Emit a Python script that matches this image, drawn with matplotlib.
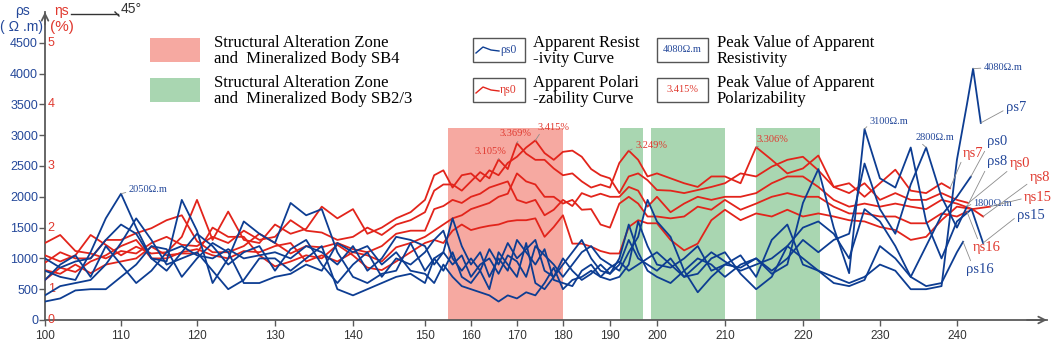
import numpy as np
import matplotlib
matplotlib.use('Agg')
import matplotlib.pyplot as plt
from matplotlib.patches import Rectangle
from matplotlib.lines import Line2D

plt.rcParams['font.family'] = ['Liberation Sans', 'DejaVu Sans']
SERIF = ['Liberation Serif', 'DejaVu Serif']

W, H = 1052, 344

# ── Data ──────────────────────────────────────────────────────────────────
X = np.arange(100, 240, 2)   # survey points 100 ... 238

# apparent resistivity (Ω·m)
RHO_S0 = [1000, 850, 950, 1000, 1300, 1550, 1400, 1000, 800, 1100,
          1400, 1200, 900, 1100, 1200, 800, 1150, 1300, 900, 600,
          900, 1100, 700, 1000, 900, 1100, 1300, 1450, 1000, 800,
          1000, 800, 1150, 900, 1250, 1000, 1150, 1300, 800, 700,
          900, 1100, 1300, 1000, 800, 750, 900, 1300, 1000, 900,
          800, 1000, 700, 900, 1100, 950, 800, 900, 1000, 1200,
          1500, 1600, 1400, 1000, 1800, 1600, 1200, 700, 1200, 1700]
RHO_S7 = [800, 700, 650, 1100, 1650, 2050, 1500, 1000, 950, 1950,
          1450, 600, 1000, 1600, 1400, 1250, 1900, 1700, 1800, 1100,
          700, 600, 750, 800, 1250, 800, 1000, 1100, 1650, 1200,
          900, 1100, 700, 1000, 800, 1300, 1100, 900, 1150, 650,
          600, 550, 800, 900, 700, 650, 700, 900, 1600, 1200,
          900, 850, 1000, 1200, 800, 900, 1050, 700, 1300, 1550,
          900, 800, 700, 600, 700, 900, 800, 500, 500, 550]
RHO_S8 = [650, 900, 1050, 700, 1200, 900, 600, 800, 1100, 1200,
          1050, 1000, 1150, 1000, 1050, 1100, 1000, 1200, 1100, 900,
          1200, 800, 1000, 1350, 1300, 1200, 900, 1100, 900, 1050,
          700, 900, 1000, 750, 1050, 950, 700, 1200, 1050, 900,
          700, 900, 1100, 1200, 1000, 900, 800, 1100, 1350, 1950,
          1600, 1350, 800, 450, 700, 900, 850, 1000, 800, 1000,
          1300, 1100, 1300, 1400, 2540, 1800, 1400, 2200, 2800, 2000]
RHO_S15 = [400, 550, 600, 650, 900, 1250, 1650, 1300, 900, 1000,
           1100, 800, 500, 650, 1000, 1000, 800, 1000, 1200, 500,
           400, 500, 600, 700, 750, 600, 1000, 800, 1100, 700,
           600, 800, 500, 1100, 900, 700, 1250, 600, 500, 700,
           1000, 800, 650, 750, 900, 750, 1000, 1550, 1100, 800,
           700, 600, 800, 1000, 900, 700, 900, 1000, 750, 900,
           1900, 2450, 1500, 760, 3100, 2300, 2150, 2800, 1600, 1000]
RHO_S16 = [300, 350, 480, 500, 500, 700, 900, 1200, 1150, 700,
           1000, 1250, 1100, 600, 600, 700, 750, 900, 800, 1250,
           1100, 1200, 900, 1100, 800, 750, 600, 900, 700, 550,
           500, 450, 400, 300, 400, 350, 450, 400, 600, 850,
           500, 650, 700, 800, 700, 850, 950, 800, 900, 1000,
           1100, 900, 700, 750, 1000, 1100, 750, 500, 700, 1200,
           1000, 800, 600, 550, 650, 1200, 1000, 700, 550, 600]

# curve ends beyond point 238
RHO_S0_END_X, RHO_S0_END_Y = [240, 241.8], [2000, 2325]
RHO_S7_END_X, RHO_S7_END_Y = [240, 241.3, 242.1, 243.1], [2600, 3500, 4080, 3200]
RHO_S8_END_X, RHO_S8_END_Y = [240, 241.3], [1500, 1840]
RHO_S15_END_X, RHO_S15_END_Y = [240, 241.9, 243.4], [1600, 1800, 1250]
RHO_S16_END_X, RHO_S16_END_Y = [240, 240.8], [1100, 1270]

# apparent polarizability (%)
ETA_S7 = [1.75, 1.88, 1.62, 1.58, 1.50, 1.62, 1.58, 1.75, 1.85, 1.72,
          1.70, 1.85, 1.75, 1.95, 1.80, 1.85, 2.12, 1.95, 1.92, 1.80,
          1.85, 2.00, 1.88, 2.05, 2.12, 2.25, 2.60, 2.70, 2.70, 2.60,
          2.75, 2.90, 2.80, 3.105, 2.95, 3.369, 3.20, 3.10, 3.10, 2.96,
          2.85, 2.88, 2.75, 2.65, 2.70, 2.65, 3.05, 3.249, 3.10, 2.83,
          2.88, 2.80, 2.72, 2.66, 2.83, 2.83, 2.72, 3.306, 3.10, 2.88,
          2.96, 3.17, 2.66, 2.72, 2.50, 2.72, 2.94, 2.60, 2.56, 2.72]
ETA_S0 = [1.55, 1.45, 1.55, 1.88, 1.72, 1.55, 1.69, 1.58, 1.60, 1.85,
          2.45, 1.80, 2.26, 1.80, 1.75, 2.05, 1.90, 1.98, 2.34, 2.15,
          2.30, 1.90, 2.00, 2.15, 2.25, 2.45, 2.85, 2.93, 2.65, 2.85,
          2.88, 2.75, 2.93, 2.85, 3.05, 3.15, 3.30, 3.415, 3.21, 3.10,
          3.23, 3.25, 3.15, 2.95, 2.85, 2.80, 2.56, 2.83, 2.88, 2.77,
          2.61, 2.60, 2.56, 2.61, 2.66, 2.72, 2.88, 2.83, 2.99, 3.10,
          3.15, 2.93, 2.66, 2.56, 2.72, 2.45, 2.56, 2.45, 2.45, 2.56]
ETA_S8 = [1.43, 1.60, 1.50, 1.50, 1.80, 1.80, 1.91, 1.99, 2.12, 2.20,
          1.78, 1.60, 1.60, 1.70, 1.90, 1.75, 1.58, 1.70, 1.68, 1.75,
          1.65, 1.60, 1.70, 1.90, 1.95, 1.95, 2.30, 2.35, 2.45, 2.40,
          2.50, 2.55, 2.65, 2.70, 2.75, 2.45, 2.40, 2.45, 2.20, 2.29,
          2.45, 2.35, 2.56, 2.50, 2.55, 2.50, 2.50, 2.66, 2.60, 2.34,
          2.50, 2.25, 2.39, 2.50, 2.45, 2.50, 2.50, 2.56, 2.72, 2.83,
          2.83, 2.66, 2.45, 2.34, 2.39, 2.34, 2.39, 2.34, 2.30, 2.45]
ETA_S15 = [1.31, 1.25, 1.40, 1.26, 1.40, 1.45, 1.50, 1.69, 1.55, 1.58,
           1.58, 2.00, 1.85, 1.85, 1.55, 1.37, 1.45, 1.55, 1.50, 1.72,
           1.55, 1.35, 1.31, 1.45, 1.60, 1.75, 1.80, 1.75, 1.95, 2.05,
           1.96, 2.00, 2.03, 2.05, 2.10, 2.12, 2.12, 2.15, 1.85, 2.01,
           2.20, 1.74, 1.74, 1.69, 1.62, 1.58, 1.58, 2.01, 2.12, 2.07,
           2.07, 1.80, 1.63, 1.74, 2.12, 2.29, 2.12, 2.23, 2.18, 2.29,
           2.18, 2.23, 2.18, 2.12, 2.10, 2.01, 1.96, 1.80, 1.85, 2.12]
ETA_S16 = [1.15, 1.35, 1.28, 1.45, 1.55, 1.70, 1.80, 1.50, 1.50, 1.60,
           1.65, 1.55, 1.50, 1.62, 1.60, 1.70, 1.75, 1.45, 1.55, 1.45,
           1.60, 1.55, 1.45, 1.68, 1.75, 1.85, 1.95, 2.05, 2.15, 2.20,
           2.30, 2.35, 2.40, 2.50, 2.55, 2.88, 2.75, 2.70, 2.50, 2.50,
           2.39, 2.45, 2.29, 2.30, 2.05, 2.00, 2.39, 2.50, 2.39, 2.18,
           2.18, 2.15, 2.18, 2.34, 2.29, 2.45, 2.29, 2.39, 2.50, 2.56,
           2.50, 2.50, 2.34, 2.23, 2.23, 2.18, 2.18, 2.07, 2.07, 2.23]

ETA_S7_END_X, ETA_S7_END_Y = [239.1], [2.64]
ETA_S0_END_X, ETA_S0_END_Y = [240, 241.5], [2.45, 2.40]
ETA_S8_END_X, ETA_S8_END_Y = [240, 242, 243.4], [2.39, 2.30, 2.18]
ETA_S15_END_X, ETA_S15_END_Y = [240, 242, 244.3], [2.34, 2.30, 2.34]
ETA_S16_END_X, ETA_S16_END_Y = [240, 241.3], [2.18, 2.26]

SB4_ZONE = (155, 180)
SB23_ZONES = [(192.1, 197.1), (198.7, 210), (214, 222.2)]
ZONE_TOP = 3110

XTICKS = list(range(100, 250, 10))
RHO_TICKS = list(range(0, 5000, 500))
ETA_TICK_POS = [0, 500, 1500, 2500, 3500, 4500]
ETA_TICK_LABELS = ['0', '1', '2', '3', '4', '5']

# the printed profile is not evenly spaced along x
KNOT_X = [90, 100, 110, 120, 130, 140, 150, 160, 170, 180, 190, 200, 210, 220, 230, 240, 260]
KNOT_PX = [-31, 45, 121, 197, 275, 353, 425, 471, 517, 563, 610, 657, 725, 803, 880, 957, 1111]

BLUE = '#0d3d92'
RED = '#e2241b'
BLUE_TXT = '#24489a'
RED_TXT = '#e0392f'
PINK = '#f6a9a1'
GREEN = '#a9d6b1'
LEADER = '#8c8c8c'
AXC = '#5a5a5a'
LEG_FS = 12
LEG_LS = 0.97


def eta_to_y(e):
    # η axis is drawn so that 1 % sits at 500 Ω·m and every further % adds 1000
    return 1000 * np.asarray(e, dtype=float) - 500


def at(series, x):
    return series[list(X).index(x)]


def fp(x, y):
    return x / W, 1 - y / H


fig = plt.figure(figsize=(W / 100, H / 100), dpi=100)
fig.patch.set_facecolor('white')
ax = fig.add_axes([45 / W, 24 / H, 1002 / W, 308 / H])
ax.set_xscale('function', functions=(lambda v: np.interp(v, KNOT_X, KNOT_PX),
                                     lambda p: np.interp(p, KNOT_PX, KNOT_X)))
ax.set_xlim(100, 251.7)
ax.set_ylim(0, 5000)

# zones
ax.fill_between(list(SB4_ZONE), 0, ZONE_TOP, color=PINK, lw=0, zorder=1)
for a, b in SB23_ZONES:
    ax.fill_between([a, b], 0, ZONE_TOP, color=GREEN, lw=0, zorder=1)

# curves
for vals, ex, ey in [(ETA_S0, ETA_S0_END_X, ETA_S0_END_Y), (ETA_S7, ETA_S7_END_X, ETA_S7_END_Y),
                     (ETA_S8, ETA_S8_END_X, ETA_S8_END_Y), (ETA_S15, ETA_S15_END_X, ETA_S15_END_Y),
                     (ETA_S16, ETA_S16_END_X, ETA_S16_END_Y)]:
    ax.plot(np.r_[X, ex], eta_to_y(np.r_[vals, ey]), color=RED, lw=1.3, zorder=3)
for vals, ex, ey in [(RHO_S0, RHO_S0_END_X, RHO_S0_END_Y), (RHO_S7, RHO_S7_END_X, RHO_S7_END_Y),
                     (RHO_S8, RHO_S8_END_X, RHO_S8_END_Y), (RHO_S15, RHO_S15_END_X, RHO_S15_END_Y),
                     (RHO_S16, RHO_S16_END_X, RHO_S16_END_Y)]:
    ax.plot(np.r_[X, ex], np.r_[vals, ey], color=BLUE, lw=1.3, zorder=4)

# axes
for s in ['top', 'right']:
    ax.spines[s].set_visible(False)
for s in ['left', 'bottom']:
    ax.spines[s].set_color(AXC)
    ax.spines[s].set_linewidth(1.3)
ax.set_xticks(XTICKS)
ax.set_xticklabels([str(t) for t in XTICKS])
ax.set_yticks(RHO_TICKS)
ax.set_yticklabels([str(t) for t in RHO_TICKS])
ax.minorticks_off()
ax.tick_params(axis='x', length=4, width=1, color=AXC, labelcolor='#333333', labelsize=8.5, pad=3)
ax.tick_params(axis='y', length=4, width=1, color=AXC, labelcolor=BLUE_TXT, labelsize=9, pad=1)
for pos, lab in zip(ETA_TICK_POS, ETA_TICK_LABELS):
    ax.annotate(lab, xy=(0, pos), xycoords=('axes fraction', 'data'), xytext=(2, 0),
                textcoords='offset points', ha='left', va='center', color=RED_TXT, fontsize=9,
                annotation_clip=False)
arrow = dict(arrowstyle='->', color=AXC, lw=1.3, mutation_scale=12, shrinkA=0, shrinkB=0)
ax.annotate('', xy=(0, 1.0), xytext=(0, 0.96), xycoords='axes fraction', arrowprops=arrow)
ax.annotate('', xy=(1.0, 0), xytext=(0.98, 0), xycoords='axes fraction', arrowprops=arrow)

# axis titles + orientation mark
fig.text(*fp(23, 11), 'ρs', color=BLUE_TXT, fontsize=10, ha='center', va='center')
fig.text(*fp(22, 27), '( Ω .m)', color=BLUE_TXT, fontsize=10, ha='center', va='center')
fig.text(*fp(62, 11), 'ηs', color=RED_TXT, fontsize=10, ha='center', va='center')
fig.text(*fp(62, 27), '(%)', color=RED_TXT, fontsize=11, ha='center', va='center')
fig.add_artist(Line2D([71 / W, 118 / W], [1 - 14 / H, 1 - 14 / H], color='#333333', lw=1.0))
fig.add_artist(Line2D([115 / W, 119 / W], [1 - 12 / H, 1 - 16 / H], color='#333333', lw=1.0))
fig.text(*fp(121, 9), '45°', color='#333333', fontsize=10, ha='left', va='center')

# legend
fig.add_artist(Rectangle(fp(150, 62), 50 / W, 24 / H, color=PINK, lw=0))
fig.add_artist(Rectangle(fp(150, 102), 50 / W, 24 / H, color=GREEN, lw=0))
fig.text(*fp(214, 51), 'Structural Alteration Zone\nand  Mineralized Body SB4', family=SERIF,
         fontsize=LEG_FS, ha='left', va='center', linespacing=LEG_LS)
fig.text(*fp(214, 91), 'Structural Alteration Zone\nand  Mineralized Body SB2/3', family=SERIF,
         fontsize=LEG_FS, ha='left', va='center', linespacing=LEG_LS)
for ytop, col, tcol, lab in [(38, BLUE, BLUE_TXT, 'ρs0'), (78, RED, RED_TXT, 'ηs0')]:
    fig.add_artist(Rectangle(fp(473, ytop + 24), 52 / W, 24 / H, fill=False, ec='#555555', lw=1.0))
    wx = np.array([476, 483, 491, 499])
    wy = ytop + np.array([15, 9, 12, 13])
    fig.add_artist(Line2D(wx / W, 1 - wy / H, color=col, lw=1.0))
    fig.text(*fp(500, ytop + 12), lab, family=SERIF, color=tcol, fontsize=8.5, ha='left', va='center')
fig.text(*fp(533, 51), 'Apparent Resist\n-ivity Curve', family=SERIF, fontsize=LEG_FS,
         ha='left', va='center', linespacing=LEG_LS)
fig.text(*fp(533, 91), 'Apparent Polari\n-zability Curve', family=SERIF, fontsize=LEG_FS,
         ha='left', va='center', linespacing=LEG_LS)
for ytop, tcol, lab in [(38, BLUE_TXT, '4080Ω.m'), (78, RED_TXT, '3.415%')]:
    fig.add_artist(Rectangle(fp(657, ytop + 24), 51 / W, 24 / H, fill=False, ec='#555555', lw=1.0))
    fig.text(*fp(682.5, ytop + 12), lab, family=SERIF, color=tcol, fontsize=7.5, ha='center', va='center')
fig.text(*fp(717, 51), 'Peak Value of Apparent\nResistivity', family=SERIF, fontsize=LEG_FS,
         ha='left', va='center', linespacing=LEG_LS)
fig.text(*fp(717, 91), 'Peak Value of Apparent\nPolarizability', family=SERIF, fontsize=LEG_FS,
         ha='left', va='center', linespacing=LEG_LS)


def callout(txt, xy, pos, color, rel, size=7.5):
    ax.annotate(txt, xy=xy, xycoords='data', xytext=(pos[0], H - pos[1]), textcoords='figure pixels',
                ha='center', va='center', fontsize=size, color=color, family=SERIF,
                arrowprops=dict(arrowstyle='-', color=LEADER, lw=0.6, shrinkA=0, shrinkB=0, relpos=rel),
                annotation_clip=False, zorder=6)


# peak values
callout('2050Ω.m', (110, at(RHO_S7, 110)), (148, 190), BLUE_TXT, (0, 0.3))
callout('3100Ω.m', (228, at(RHO_S15, 228)), (889, 122), BLUE_TXT, (0, 0.3))
callout('2800Ω.m', (236, at(RHO_S8, 236)), (935, 137), BLUE_TXT, (0.1, 0))
callout('4080Ω.m', (RHO_S7_END_X[2], RHO_S7_END_Y[2]), (1003, 68), BLUE_TXT, (0, 0.5))
callout('1800Ω.m', (RHO_S8_END_X[-1], RHO_S8_END_Y[-1]), (993, 203), BLUE_TXT, (0, 0.5))
callout('3.105%', (166, eta_to_y(at(ETA_S7, 166))), (490, 151), RED_TXT, (0.8, 0))
callout('3.369%', (170, eta_to_y(at(ETA_S7, 170))), (516, 134), RED_TXT, (0.6, 0))
callout('3.415%', (174, eta_to_y(at(ETA_S0, 174))), (554, 127), RED_TXT, (0.1, 0))
callout('3.249%', (194, eta_to_y(at(ETA_S7, 194))), (651, 145), RED_TXT, (0, 0.2))
callout('3.306%', (214, eta_to_y(at(ETA_S7, 214))), (772, 139), RED_TXT, (0.3, 0))

# curve names
callout('ρs7', (RHO_S7_END_X[-1], RHO_S7_END_Y[-1]), (1016, 108), BLUE_TXT, (0, 0.4), 10.5)
callout('ρs0', (RHO_S0_END_X[-1], RHO_S0_END_Y[-1]), (997, 142), BLUE_TXT, (0, 0.1), 10.5)
callout('ρs8', (RHO_S8_END_X[-1], RHO_S8_END_Y[-1]), (997, 162), BLUE_TXT, (0, 0.1), 10.5)
callout('ρs15', (RHO_S15_END_X[-1], RHO_S15_END_Y[-1]), (1031, 215), BLUE_TXT, (0, 0.4), 10.5)
callout('ρs16', (RHO_S16_END_X[-1], RHO_S16_END_Y[-1]), (980, 270), BLUE_TXT, (0.2, 1), 10.5)
callout('ηs7', (ETA_S7_END_X[-1], eta_to_y(ETA_S7_END_Y[-1])), (973, 153), RED_TXT, (0, 0.1), 10.5)
callout('ηs0', (ETA_S0_END_X[-1], eta_to_y(ETA_S0_END_Y[-1])), (1020, 164), RED_TXT, (0, 0.1), 10.5)
callout('ηs8', (ETA_S8_END_X[-1], eta_to_y(ETA_S8_END_Y[-1])), (1040, 177), RED_TXT, (0, 0.1), 10.5)
callout('ηs15', (ETA_S15_END_X[-1], eta_to_y(ETA_S15_END_Y[-1])), (1038, 197), RED_TXT, (0, 0.4), 10.5)
callout('ηs16', (ETA_S16_END_X[-1], eta_to_y(ETA_S16_END_Y[-1])), (987, 248), RED_TXT, (0.2, 1), 10.5)

fig.savefig('out.png', dpi=100, facecolor='white')
